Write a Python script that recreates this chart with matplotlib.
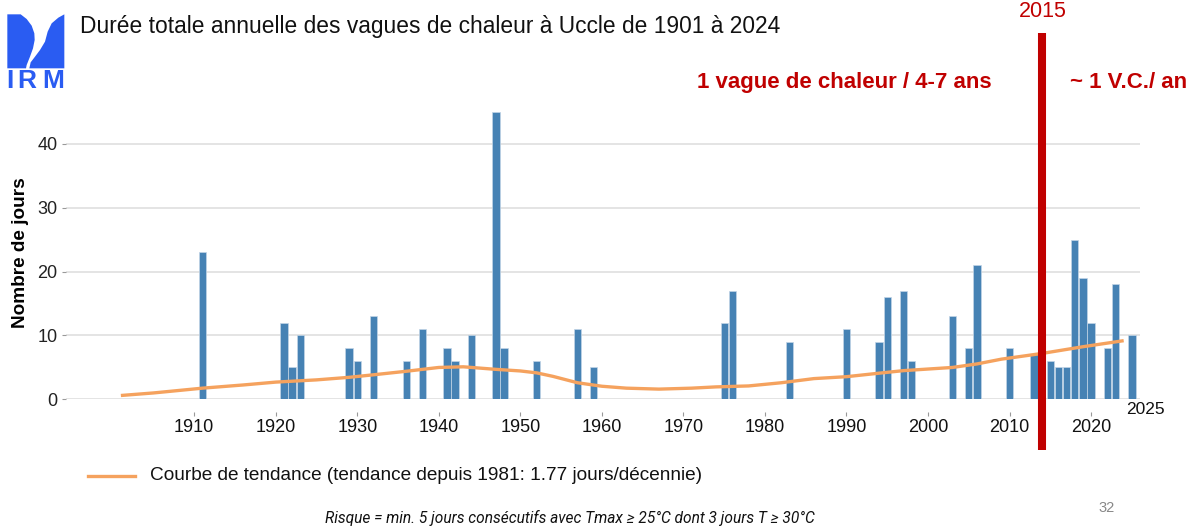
import matplotlib
matplotlib.use("Agg")
import matplotlib.pyplot as plt
from matplotlib.patches import Polygon
from matplotlib.transforms import blended_transform_factory
from matplotlib.lines import Line2D

plt.rcParams['font.family'] = ['Liberation Sans', 'DejaVu Sans']

# ---------------- data ----------------
YEARS = [1911, 1921, 1922, 1923, 1929, 1930, 1932, 1936, 1938, 1941, 1942, 1944,
         1947, 1948, 1952, 1957, 1959, 1975, 1976, 1983, 1990, 1994, 1995, 1997,
         1998, 2003, 2005, 2006, 2010, 2013, 2015, 2016, 2017, 2018, 2019, 2020,
         2022, 2023, 2025]
DAYS = [23, 12, 5, 10, 8, 6, 13, 6, 11, 8, 6, 10,
        45, 8, 6, 11, 5, 12, 17, 9, 11, 9, 16, 17,
        6, 13, 8, 21, 8, 7, 6, 5, 5, 25, 19, 12,
        8, 18, 10]

TREND_YEARS = [1901, 1905, 1911, 1916, 1920, 1925, 1929, 1932, 1936, 1940, 1943,
               1947, 1950, 1952, 1954, 1957, 1960, 1963, 1967, 1971, 1974, 1978,
               1982, 1986, 1990, 1994, 1997, 2000, 2003, 2006, 2009, 2014, 2019, 2024]
TREND_VALUES = [0.55, 0.95, 1.7, 2.2, 2.65, 3.0, 3.4, 3.8, 4.35, 4.95, 5.05,
                4.65, 4.4, 4.1, 3.55, 2.55, 2.0, 1.7, 1.55, 1.7, 1.9, 2.05,
                2.55, 3.2, 3.5, 4.05, 4.45, 4.7, 4.95, 5.5, 6.25, 7.15, 8.2, 9.15]

X_TICKS = [1910, 1920, 1930, 1940, 1950, 1960, 1970, 1980, 1990, 2000, 2010, 2020]
Y_TICKS = [0, 10, 20, 30, 40]
MARKER_YEAR = 2014

TITLE = "Durée totale annuelle des vagues de chaleur à Uccle de 1901 à 2024"
LEGEND_LABEL = "Courbe de tendance (tendance depuis 1981: 1.77 jours/décennie)"
FOOTNOTE = "Risque = min. 5 jours consécutifs avec Tmax \u2265 25°C dont 3 jours T \u2265 30°C"

BAR_COLOR = '#4682b4'
TREND_COLOR = '#f5a25e'
RED = '#c00000'
LOGO_BLUE = '#2a5cf2'

W, H = 1193, 527
fig = plt.figure(figsize=(W / 100, H / 100), dpi=100)

def fx(px):
    return px / W

def fy(py):
    return 1 - py / H

# main axes: x pixels 66..1140, y pixels 105.75..399
ax = fig.add_axes([fx(66), fy(399), fx(1140) - fx(66), fy(105.75) - fy(399)])
ax.set_xlim(1894.27, 2026.0)
ax.set_ylim(0, 46)

ax.bar(YEARS, DAYS, width=0.9, color=BAR_COLOR, edgecolor='#c3d5e6',
       linewidth=0.5, zorder=2)
ax.plot(TREND_YEARS, TREND_VALUES, color=TREND_COLOR, lw=2.4, zorder=3,
        solid_capstyle='butt')

for s in ax.spines.values():
    s.set_visible(False)
ax.spines['bottom'].set_position(('outward', 9))
ax.set_yticks(Y_TICKS)
ax.set_xticks(X_TICKS)
ax.yaxis.grid(True, color='#dcdcdc', lw=1.1, zorder=0)
ax.set_axisbelow(True)
ax.tick_params(axis='y', length=3, width=0.8, color='#999999', pad=3,
               labelsize=13, labelcolor='#222222')
ax.tick_params(axis='x', length=3, width=0.8, color='#999999', pad=2.5,
               labelsize=13, labelcolor='#111111')
ax.set_ylabel("Nombre de jours", fontsize=13.7, fontweight='bold')
ax.yaxis.set_label_coords(-0.034, 0.5)

# "2025" label
ax.text(2024.3, -0.037, "2025", transform=blended_transform_factory(ax.transData, ax.transAxes),
        ha='left', va='center', fontsize=12.5, color='#111111')

# red vertical marker line
ax.plot([MARKER_YEAR, MARKER_YEAR], [fy(450), fy(33)],
        transform=blended_transform_factory(ax.transData, fig.transFigure),
        color=RED, lw=5.8, clip_on=False, zorder=5, solid_capstyle='butt')

# title and texts
fig.text(fx(80), fy(33), TITLE, fontsize=16.4, color='#111111', ha='left', va='baseline')
fig.text(fx(1043), fy(17), "2015", fontsize=15.5, color=RED, ha='center', va='baseline')
fig.text(fx(697), fy(88), "1 vague de chaleur / 4-7 ans", fontsize=16,
         fontweight='bold', color=RED, ha='left', va='baseline')
fig.text(fx(1070), fy(88), "~ 1 V.C./ an", fontsize=16,
         fontweight='bold', color=RED, ha='left', va='baseline')

# legend
fig.add_artist(Line2D([fx(88), fx(135)], [fy(476), fy(476)], color=TREND_COLOR, lw=2.4))
fig.text(fx(150), fy(476), LEGEND_LABEL, fontsize=13.7, color='#111111',
         ha='left', va='center')

# footnote and page number
fig.text(fx(325), fy(523), FOOTNOTE, fontsize=11.2, style='italic', color='#111111',
         ha='left', va='baseline', family=['Roboto', 'DejaVu Sans'])
fig.text(fx(1098), fy(512), "32", fontsize=10.5, color='#888888', ha='left', va='baseline')

# logo (IRM)
lax = fig.add_axes([0, fy(100), fx(75), fy(5) - fy(100)])
lax.set_xlim(0, 225)
lax.set_ylim(285, 0)
lax.axis('off')
left_piece = [(22, 28), (62, 28), (80, 42), (95, 62), (103, 85), (104, 105),
              (99, 130), (90, 155), (80, 180), (78, 190), (22, 190)]
right_piece = [(193, 28), (193, 190), (88, 190), (92, 172), (105, 155), (120, 135),
               (135, 110), (143, 80), (155, 55), (175, 38)]
lax.add_patch(Polygon(left_piece, closed=True, color=LOGO_BLUE, lw=0))
lax.add_patch(Polygon(right_piece, closed=True, color=LOGO_BLUE, lw=0))
for letter, xpos in zip("IRM", [31, 80, 160]):
    lax.text(xpos, 250, letter, fontsize=19, color=LOGO_BLUE, ha='center',
             va='baseline', fontweight='bold')

fig.savefig("out.png", dpi=100)
